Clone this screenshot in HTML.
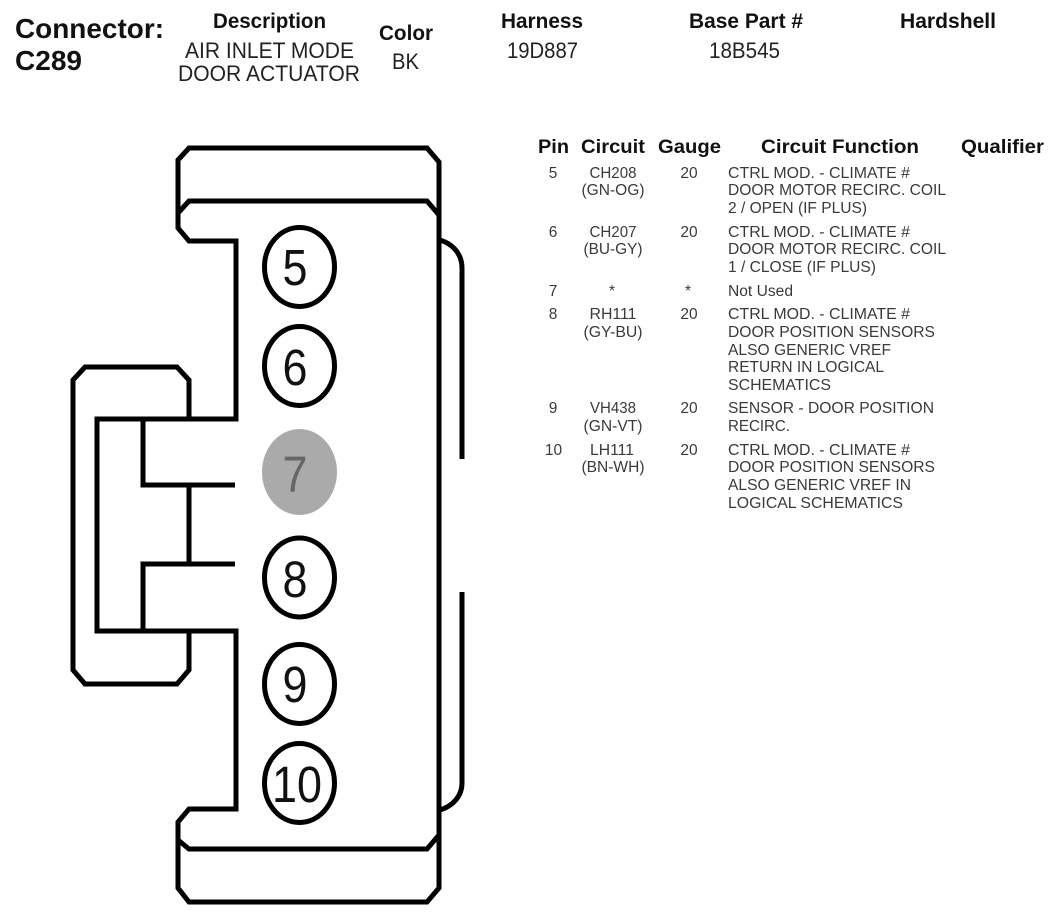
<!DOCTYPE html>
<html lang="en">
<head>
<meta charset="utf-8">
<title>Connector C289</title>
<style>
html,body{margin:0;padding:0;background:#fff;}
svg{display:block;}
text{font-family:"Liberation Sans",Arial,sans-serif;}
.b{font-weight:bold;fill:#111;}
.h{font-size:19px;}
.h2{font-size:21px;}
.t{font-size:22px;fill:#222;}
.s{font-size:15.5px;fill:#3a3a3a;}
.m{text-anchor:middle;}
.d{font-size:51px;fill:#111;text-anchor:middle;}
</style>
</head>
<body>
<svg width="1054" height="916" viewBox="0 0 1054 916" xmlns="http://www.w3.org/2000/svg">
<rect width="1054" height="916" fill="#fff"/>

<!-- Title block -->
<text class="b" x="15" y="38" font-size="28" textLength="149" lengthAdjust="spacingAndGlyphs">Connector:</text>
<text class="b" x="15" y="70" font-size="28" textLength="67" lengthAdjust="spacingAndGlyphs">C289</text>
<text class="b h2" x="213" y="28" textLength="113" lengthAdjust="spacingAndGlyphs">Description</text>
<text class="b h2" x="379" y="40" textLength="54" lengthAdjust="spacingAndGlyphs">Color</text>
<text class="b h2" x="501" y="28" textLength="82" lengthAdjust="spacingAndGlyphs">Harness</text>
<text class="b h2" x="689" y="28" textLength="114" lengthAdjust="spacingAndGlyphs">Base Part #</text>
<text class="b h2" x="900" y="28" textLength="96" lengthAdjust="spacingAndGlyphs">Hardshell</text>
<text class="t" x="185" y="58" textLength="169" lengthAdjust="spacingAndGlyphs">AIR INLET MODE</text>
<text class="t" x="178" y="81" textLength="182" lengthAdjust="spacingAndGlyphs">DOOR ACTUATOR</text>
<text class="t" x="392" y="69" textLength="27" lengthAdjust="spacingAndGlyphs">BK</text>
<text class="t" x="507" y="58" textLength="71" lengthAdjust="spacingAndGlyphs">19D887</text>
<text class="t" x="709" y="58" textLength="71" lengthAdjust="spacingAndGlyphs">18B545</text>

<!-- Connector outline -->
<g fill="none" stroke="#000" stroke-width="5" stroke-linejoin="miter">
  <path d="M178 213V160L189 148H427L439 162V888L427 902H189L178 888V840"/>
  <path d="M439 215L427 201H189L178 213V228L189 241H236V419H97V631H236V809H189L178 822V840L189 849H427L439 835"/>
  <path d="M189 419V380L177 367H85L73 380V670L85 684H177L189 670V631"/>
  <path d="M143 419V485H235"/>
  <path d="M189 485V564"/>
  <path d="M235 564H143V631"/>
  <path d="M440 240C453 244 462 254 462 268V459"/>
  <path d="M462 592V783C462 796 453 806 440 810"/>
</g>

<!-- Pin circles -->
<g fill="#fff" stroke="#000" stroke-width="5">
  <ellipse cx="299.5" cy="267" rx="35" ry="39.5"/>
  <ellipse cx="299.5" cy="366" rx="35" ry="39.5"/>
  <ellipse cx="299.5" cy="577.5" rx="35" ry="39.5"/>
  <ellipse cx="299.5" cy="684" rx="35" ry="39.5"/>
  <ellipse cx="299.5" cy="783" rx="35" ry="39.5"/>
</g>
<ellipse cx="299.5" cy="472" rx="37.5" ry="43" fill="#aaaaaa"/>
<text class="d" x="295" y="285" textLength="25" lengthAdjust="spacingAndGlyphs">5</text>
<text class="d" x="295" y="385" textLength="25" lengthAdjust="spacingAndGlyphs">6</text>
<text class="d" x="295" y="492" textLength="25" lengthAdjust="spacingAndGlyphs" style="fill:#666">7</text>
<text class="d" x="295" y="597" textLength="25" lengthAdjust="spacingAndGlyphs">8</text>
<text class="d" x="295" y="702" textLength="25" lengthAdjust="spacingAndGlyphs">9</text>
<text class="d" x="297" y="802" textLength="50" lengthAdjust="spacingAndGlyphs">10</text>

<!-- Table header -->
<text class="b h" x="538" y="153" textLength="31" lengthAdjust="spacingAndGlyphs">Pin</text>
<text class="b h" x="581" y="153" textLength="64" lengthAdjust="spacingAndGlyphs">Circuit</text>
<text class="b h" x="658" y="153" textLength="63" lengthAdjust="spacingAndGlyphs">Gauge</text>
<text class="b h" x="761" y="153" textLength="158" lengthAdjust="spacingAndGlyphs">Circuit Function</text>
<text class="b h" x="961" y="153" textLength="83" lengthAdjust="spacingAndGlyphs">Qualifier</text>

<!-- Pin column -->
<text class="s m" x="553" y="178">5</text>
<text class="s m" x="553" y="237">6</text>
<text class="s m" x="553" y="296">7</text>
<text class="s m" x="553" y="319">8</text>
<text class="s m" x="553" y="413">9</text>
<text class="s m" x="553.5" y="455">10</text>

<!-- Circuit column -->
<text class="s" x="589.5" y="178" textLength="47" lengthAdjust="spacingAndGlyphs">CH208</text>
<text class="s" x="581.5" y="195" textLength="63" lengthAdjust="spacingAndGlyphs">(GN-OG)</text>
<text class="s" x="589.5" y="237" textLength="47" lengthAdjust="spacingAndGlyphs">CH207</text>
<text class="s" x="583.5" y="254" textLength="59" lengthAdjust="spacingAndGlyphs">(BU-GY)</text>
<text class="s m" x="612" y="296">*</text>
<text class="s" x="589.5" y="319" textLength="47" lengthAdjust="spacingAndGlyphs">RH111</text>
<text class="s" x="583.5" y="337" textLength="59" lengthAdjust="spacingAndGlyphs">(GY-BU)</text>
<text class="s" x="590" y="413" textLength="46" lengthAdjust="spacingAndGlyphs">VH438</text>
<text class="s" x="583.5" y="431" textLength="59" lengthAdjust="spacingAndGlyphs">(GN-VT)</text>
<text class="s" x="590" y="455" textLength="44" lengthAdjust="spacingAndGlyphs">LH111</text>
<text class="s" x="581.5" y="472" textLength="63" lengthAdjust="spacingAndGlyphs">(BN-WH)</text>

<!-- Gauge column -->
<text class="s m" x="689" y="178">20</text>
<text class="s m" x="689" y="237">20</text>
<text class="s m" x="688" y="296">*</text>
<text class="s m" x="689" y="319">20</text>
<text class="s m" x="689" y="413">20</text>
<text class="s m" x="689" y="455">20</text>

<!-- Circuit function column -->
<text class="s" x="728" y="178" textLength="182" lengthAdjust="spacingAndGlyphs">CTRL MOD. - CLIMATE #</text>
<text class="s" x="728" y="195" textLength="218" lengthAdjust="spacingAndGlyphs">DOOR MOTOR RECIRC. COIL</text>
<text class="s" x="728" y="213" textLength="139" lengthAdjust="spacingAndGlyphs">2 / OPEN (IF PLUS)</text>
<text class="s" x="728" y="237" textLength="182" lengthAdjust="spacingAndGlyphs">CTRL MOD. - CLIMATE #</text>
<text class="s" x="728" y="254" textLength="218" lengthAdjust="spacingAndGlyphs">DOOR MOTOR RECIRC. COIL</text>
<text class="s" x="728" y="272" textLength="148" lengthAdjust="spacingAndGlyphs">1 / CLOSE (IF PLUS)</text>
<text class="s" x="728" y="296" textLength="65" lengthAdjust="spacingAndGlyphs">Not Used</text>
<text class="s" x="728" y="319" textLength="182" lengthAdjust="spacingAndGlyphs">CTRL MOD. - CLIMATE #</text>
<text class="s" x="728" y="337" textLength="207" lengthAdjust="spacingAndGlyphs">DOOR POSITION SENSORS</text>
<text class="s" x="728" y="355" textLength="163" lengthAdjust="spacingAndGlyphs">ALSO GENERIC VREF</text>
<text class="s" x="728" y="372" textLength="156" lengthAdjust="spacingAndGlyphs">RETURN IN LOGICAL</text>
<text class="s" x="728" y="390" textLength="103" lengthAdjust="spacingAndGlyphs">SCHEMATICS</text>
<text class="s" x="728" y="413" textLength="206" lengthAdjust="spacingAndGlyphs">SENSOR - DOOR POSITION</text>
<text class="s" x="728" y="431" textLength="62" lengthAdjust="spacingAndGlyphs">RECIRC.</text>
<text class="s" x="728" y="455" textLength="182" lengthAdjust="spacingAndGlyphs">CTRL MOD. - CLIMATE #</text>
<text class="s" x="728" y="472" textLength="207" lengthAdjust="spacingAndGlyphs">DOOR POSITION SENSORS</text>
<text class="s" x="728" y="490" textLength="183" lengthAdjust="spacingAndGlyphs">ALSO GENERIC VREF IN</text>
<text class="s" x="728" y="508" textLength="175" lengthAdjust="spacingAndGlyphs">LOGICAL SCHEMATICS</text>
</svg>
</body>
</html>
